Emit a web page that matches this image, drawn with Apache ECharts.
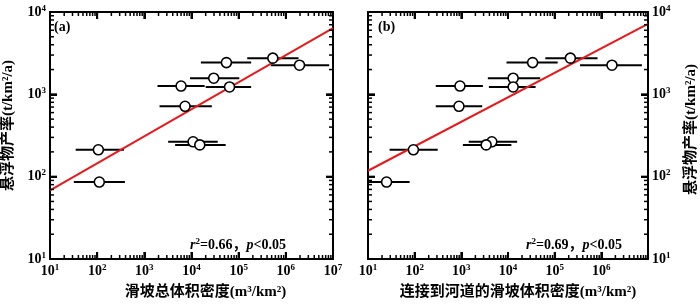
<!DOCTYPE html>
<html>
<head>
<meta charset="utf-8">
<script src="https://cdn.jsdelivr.net/npm/echarts@6/dist/echarts.min.js"></script>
<style>
  html, body { margin: 0; padding: 0; background: #fff; }
  #plot { width: 700px; height: 305px; }
</style>
</head>
<body>
<div id="plot"></div>
<script>
// 悬浮物产率 (t/km2/a)，两幅图共用
var sedYield = [2430, 2750, 2260, 1570, 1260, 1230, 716, 265, 243, 212, 86];

// (a) 滑坡总体积密度
var xA = [5.5e4, 5.3e5, 1.95e6, 2.96e4, 6.0e3, 6.4e4, 7.3e3, 1.08e4, 1.5e4, 106, 111];
var xALow = [1.58e4, 1.52e5, 4.8e5, 9.3e3, 1.9e3, 2.0e4, 2.1e3, 3.2e3, 4.5e3, 35, 32];
var xAHigh = [1.84e5, 1.86e6, 8.3e6, 1.03e5, 1.9e4, 1.84e5, 2.7e4, 3.6e4, 5.3e4, 370, 388];

// (b) 连接到河道的滑坡体积密度
var xB = [3.37e4, 2.17e5, 1.69e6, 1.29e4, 935, 1.29e4, 890, 4.5e3, 3.4e3, 94, 25];
var xBLow = [9.3e3, 6.3e4, 3.5e5, 3.7e3, 283, 3.9e3, 283, 1.44e3, 1.08e3, 29, 10];
var xBHigh = [1.16e5, 8.3e5, 7.4e6, 4.9e4, 2.9e3, 3.9e4, 2.8e3, 1.57e4, 1.18e4, 312, 78];

// 拟合线端点
var fitAx = [10, 1e7];
var fitAy = [68, 6380];
var fitBx = [10, 1e7];
var fitBy = [118, 7160];

var xName = ['滑坡总体积密度(m³/km²)', '连接到河道的滑坡体积密度(m³/km²)'];
var yName = '悬浮物产率(t/km²/a)';
var statText = ['{i|r}{s|2}{n|=0.66，}{i|p}{n|<0.05}', '{i|r}{s|2}{n|=0.69，}{i|p}{n|<0.05}'];

var serif = "'Liberation Serif', 'Noto Sans CJK SC', serif";
var labelRich = {
  b: { fontFamily: serif, fontSize: 14, fontWeight: 'bold', color: '#000' },
  s: { fontFamily: serif, fontSize: 9, fontWeight: 'bold', color: '#000', padding: [0, 0, 7, 0] }
};

// 对数轴刻度: 主刻度 10^k, 次刻度 2..9 × 10^k
var tickX = [];
var tickY = [];
for (var k = 1; k < 7; k++) {
  for (var m = 1; m < 10; m++) {
    tickX.push(m * Math.pow(10, k));
    if (k < 4) tickY.push(m * Math.pow(10, k));
  }
}
tickX.push(1e7);
tickY.push(1e4);

function isMajor(v) {
  var e = Math.log10(v);
  return Math.abs(e - Math.round(e)) < 1e-9;
}

function powLabel(hideLast) {
  return function (v) {
    var e = Math.round(Math.log10(v));
    if (hideLast && e === 7) return '';
    return '{b|10}{s|' + e + '}';
  };
}

function logAxis(grid, pos, min, max, split, showLabel, formatter, name, nameGap, shift) {
  var ax = {
    type: 'log',
    gridIndex: grid,
    position: pos,
    min: min,
    max: max,
    splitNumber: split,
    axisLine: { show: true, lineStyle: { color: '#000', width: 2 } },
    axisTick: { show: true, inside: true, length: 7, lineStyle: { color: '#000', width: 2 } },
    splitLine: { show: false },
    axisLabel: { show: showLabel, formatter: formatter, margin: 4, rich: labelRich }
  };
  if (name) {
    ax.name = name;
    ax.nameLocation = 'middle';
    ax.nameGap = nameGap;
    ax.nameTextStyle = {
      fontFamily: serif, fontSize: 15, fontWeight: 'bold', color: '#000',
      padding: [0, 0, 0, shift]
    };
  }
  return ax;
}

function errData(lo, hi, y) {
  return y.map(function (v, i) { return [lo[i], hi[i], v]; });
}

function errSeries(xi, yi, data) {
  return {
    type: 'custom',
    xAxisIndex: xi,
    yAxisIndex: yi,
    z: 1,
    renderItem: function (params, api) {
      var p1 = api.coord([api.value(0), api.value(2)]);
      var p2 = api.coord([api.value(1), api.value(2)]);
      return {
        type: 'line',
        shape: { x1: p1[0], y1: p1[1], x2: p2[0], y2: p2[1] },
        style: { stroke: '#000', lineWidth: 2 }
      };
    },
    encode: { x: [0, 1], y: 2 },
    data: data
  };
}

// 刻度线用细长矩形符号画出，四边都朝内
function tickItem(x, y, side, major) {
  var len = major ? 7 : 4;
  var w = major ? 2 : 1.5;
  var size, off;
  if (side === 'bottom') { size = [w, len]; off = [0, -len / 2]; }
  else if (side === 'top') { size = [w, len]; off = [0, len / 2]; }
  else if (side === 'left') { size = [len, w]; off = [len / 2, 0]; }
  else { size = [len, w]; off = [-len / 2, 0]; }
  return { value: [x, y], symbolSize: size, symbolOffset: off };
}

function tickSeries(xi, yi) {
  var data = [];
  tickX.forEach(function (v) {
    data.push(tickItem(v, 10, 'bottom', isMajor(v)));
    data.push(tickItem(v, 1e4, 'top', isMajor(v)));
  });
  tickY.forEach(function (v) {
    data.push(tickItem(10, v, 'left', isMajor(v)));
    data.push(tickItem(1e7, v, 'right', isMajor(v)));
  });
  return {
    type: 'scatter',
    xAxisIndex: xi,
    yAxisIndex: yi,
    z: 4,
    clip: false,
    symbol: 'rect',
    itemStyle: { color: '#000', opacity: 1 },
    emphasis: { disabled: true },
    data: data
  };
}

function zip(a, b) {
  return a.map(function (v, i) { return [v, b[i]]; });
}

var statRich = {
  i: { fontFamily: serif, fontSize: 14, fontStyle: 'italic', fontWeight: 'bold', fill: '#000' },
  n: { fontFamily: serif, fontSize: 14, fontWeight: 'bold', fill: '#000' },
  s: { fontFamily: serif, fontSize: 9, fontWeight: 'bold', fill: '#000', padding: [0, 0, 7, 0] }
};

var myChart = echarts.init(document.getElementById('plot'));

var option = {
  animation: false,
  grid: [
    { left: 46, top: 12, width: 287, height: 255 },
    { left: 368, top: 12, width: 289, height: 255 }
  ],
  xAxis: [
    logAxis(0, 'bottom', 10, 1e7, 6, true, powLabel(false), xName[0], 26, 28),
    logAxis(0, 'top', 10, 1e7, 6, false),
    logAxis(1, 'bottom', 10, 1e7, 6, true, powLabel(true), xName[1], 26, 20),
    logAxis(1, 'top', 10, 1e7, 6, false)
  ],
  yAxis: [
    logAxis(0, 'left', 10, 1e4, 3, true, powLabel(false), yName, 34, 20),
    logAxis(0, 'right', 10, 1e4, 3, false),
    logAxis(1, 'left', 10, 1e4, 3, false),
    logAxis(1, 'right', 10, 1e4, 3, true, powLabel(false), yName, 36, 12)
  ],
  series: [
    errSeries(0, 0, errData(xALow, xAHigh, sedYield)),
    {
      type: 'line', xAxisIndex: 0, yAxisIndex: 0, z: 2,
      data: zip(fitAx, fitAy), showSymbol: false, symbol: 'none',
      lineStyle: { color: '#e8191a', width: 2 }
    },
    {
      type: 'scatter', xAxisIndex: 0, yAxisIndex: 0, z: 3,
      data: zip(xA, sedYield), symbol: 'circle', symbolSize: 10,
      itemStyle: { color: '#fff', borderColor: '#000', borderWidth: 1.6, opacity: 1 }
    },
    errSeries(2, 3, errData(xBLow, xBHigh, sedYield)),
    {
      type: 'line', xAxisIndex: 2, yAxisIndex: 3, z: 2,
      data: zip(fitBx, fitBy), showSymbol: false, symbol: 'none',
      lineStyle: { color: '#e8191a', width: 2 }
    },
    {
      type: 'scatter', xAxisIndex: 2, yAxisIndex: 3, z: 3,
      data: zip(xB, sedYield), symbol: 'circle', symbolSize: 10,
      itemStyle: { color: '#fff', borderColor: '#000', borderWidth: 1.6, opacity: 1 }
    },
    tickSeries(0, 0),
    tickSeries(2, 3)
  ],
  graphic: [
    { type: 'text', left: 54, top: 20, style: { text: '(a)', font: 'bold 14px ' + serif, fill: '#000' } },
    { type: 'text', left: 378, top: 20, style: { text: '(b)', font: 'bold 14px ' + serif, fill: '#000' } },
    { type: 'text', left: 190, top: 237, style: { text: statText[0], rich: statRich } },
    { type: 'text', left: 526, top: 237, style: { text: statText[1], rich: statRich } }
  ]
};

myChart.setOption(option);
</script>
</body>
</html>
